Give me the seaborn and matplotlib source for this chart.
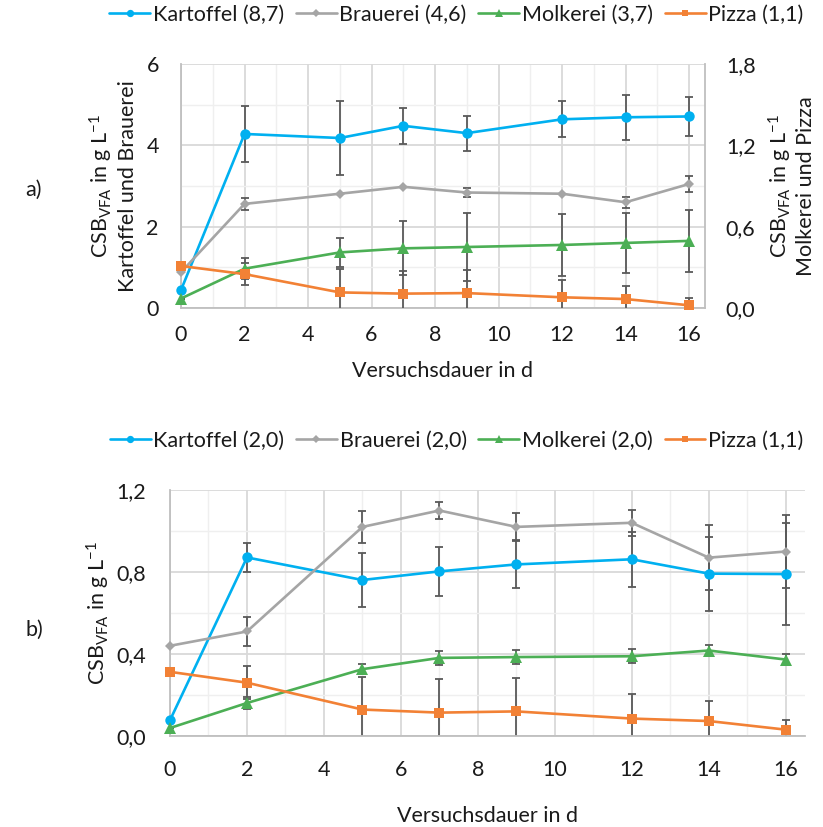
import numpy as np
import pandas as pd
import matplotlib
matplotlib.use("Agg")
import matplotlib.pyplot as plt
import seaborn as sns
from matplotlib.lines import Line2D
from matplotlib.ticker import MultipleLocator, FixedLocator, FixedFormatter

# ---------------- data ----------------
days = [0, 2, 5, 7, 9, 12, 14, 16]

names_a = ["Kartoffel (8,7)", "Brauerei (4,6)", "Molkerei (3,7)", "Pizza (1,1)"]
names_b = ["Kartoffel (2,0)", "Brauerei (2,0)", "Molkerei (2,0)", "Pizza (1,1)"]

# panel a) - Kartoffel & Brauerei on left axis, Molkerei & Pizza on right axis
kart_a = [0.44, 4.28, 4.18, 4.48, 4.30, 4.64, 4.69, 4.71]
kart_a_err = [0.0, 0.69, 0.92, 0.45, 0.43, 0.44, 0.56, 0.47]
brau_a = [0.88, 2.56, 2.81, 2.98, 2.84, 2.81, 2.60, 3.05]
brau_a_err = [0.0, 0.15, 0.0, 0.0, 0.11, 0.0, 0.14, 0.20]
molk_a = [0.07, 0.29, 0.41, 0.44, 0.45, 0.465, 0.48, 0.495]
molk_a_err = [0.0, 0.076, 0.11, 0.20, 0.25, 0.23, 0.22, 0.23]
pizza_a = [0.31, 0.25, 0.115, 0.106, 0.11, 0.079, 0.066, 0.02]
pizza_a_err = [0.0, 0.08, 0.17, 0.17, 0.17, 0.125, 0.096, 0.054]

# panel b)
kart_b = [0.077, 0.871, 0.761, 0.803, 0.837, 0.862, 0.792, 0.79]
kart_b_err = [0.0, 0.07, 0.133, 0.121, 0.117, 0.134, 0.18, 0.25]
brau_b = [0.44, 0.51, 1.02, 1.10, 1.02, 1.04, 0.87, 0.90]
brau_b_err = [0.0, 0.071, 0.08, 0.043, 0.068, 0.062, 0.158, 0.176]
molk_b = [0.039, 0.161, 0.326, 0.381, 0.385, 0.389, 0.417, 0.373]
molk_b_err = [0.0, 0.03, 0.023, 0.035, 0.035, 0.033, 0.025, 0.025]
pizza_b = [0.313, 0.26, 0.129, 0.114, 0.12, 0.085, 0.073, 0.031]
pizza_b_err = [0.0, 0.08, 0.16, 0.166, 0.165, 0.122, 0.098, 0.045]

xticks = [0, 2, 4, 6, 8, 10, 12, 14, 16]
yticks_a_left = [0, 2, 4, 6]
yticks_a_right = [0.0, 0.6, 1.2, 1.8]
yticklabels_a_right = ["0,0", "0,6", "1,2", "1,8"]
yticks_b = [0.0, 0.4, 0.8, 1.2]
yticklabels_b = ["0,0", "0,4", "0,8", "1,2"]

xlabel = "Versuchsdauer in d"
csb = r"CSB$_\mathregular{VFA}$ in g L$^\mathregular{-1}$"

# ---------------- style ----------------
sns.set_theme(style="white")
plt.rcParams["font.family"] = ["Lato", "DejaVu Sans"]
plt.rcParams["mathtext.fontset"] = "custom"
plt.rcParams["mathtext.rm"] = "Lato"
plt.rcParams["mathtext.it"] = "Lato:italic"
plt.rcParams["mathtext.bf"] = "Lato:bold"

FS = 15.5
TXT = "#1a1a1a"
colors = ["#00B0F0", "#A5A5A5", "#4CAF55", "#F28135"]
markers = ["o", "D", "^", "s"]
msizes = [7.5, 5.5, 8, 7]
ERR = "#595959"
GRID_MAJ = "#D9D9D9"
GRID_MIN = "#EFEFEF"
AXC = "#BFBFBF"

W, H = 823, 827
fig = plt.figure(figsize=(W / 100, H / 100), dpi=100)


def frac(l, t, r, b):
    return [l / W, 1 - b / H, (r - l) / W, (b - t) / H]


ax_a = fig.add_axes(frac(181, 64, 705, 308))
ax_b = fig.add_axes(frac(170, 490, 805, 736))
ax_a2 = ax_a.twinx()


def style_grid(ax, ymaj, ymin):
    ax.set_xlim(0, 16.5)
    ax.xaxis.set_major_locator(FixedLocator(xticks))
    ax.xaxis.set_minor_locator(MultipleLocator(1))
    ax.yaxis.set_major_locator(MultipleLocator(ymaj))
    ax.yaxis.set_minor_locator(MultipleLocator(ymin))
    ax.grid(which="major", color=GRID_MAJ, lw=1.3, zorder=0)
    ax.grid(which="minor", color=GRID_MIN, lw=1.0, zorder=0)
    ax.set_axisbelow(True)
    for s in ["top", "right"]:
        ax.spines[s].set_visible(False)
    for s in ["left", "bottom"]:
        ax.spines[s].set_color(AXC)
        ax.spines[s].set_linewidth(1.3)
    ax.tick_params(which="both", length=0, labelsize=FS, colors=TXT)


def draw(ax, vals, errs, i, label):
    ax.errorbar(days, vals, yerr=errs, fmt="none", ecolor=ERR, elinewidth=1.3,
                capsize=3, capthick=1.3, zorder=2)
    df = pd.DataFrame({"x": days, "y": vals})
    sns.lineplot(data=df, x="x", y="y", ax=ax, color=colors[i], marker=markers[i],
                 markersize=msizes[i], markeredgewidth=0, linewidth=1.9,
                 clip_on=False, zorder=3, legend=False)


# ---------------- panel a ----------------
style_grid(ax_a, 2, 1)
ax_a.set_ylim(0, 6)
ax_a.set_yticks(yticks_a_left)
draw(ax_a, kart_a, kart_a_err, 0, names_a[0])
draw(ax_a, brau_a, brau_a_err, 1, names_a[1])
ax_a2.set_ylim(0, 1.8)
draw(ax_a2, molk_a, molk_a_err, 2, names_a[2])
draw(ax_a2, pizza_a, pizza_a_err, 3, names_a[3])
ax_a2.set_ylim(0, 1.8)
ax_a2.set_xlim(0, 16.5)
ax_a2.yaxis.set_major_locator(FixedLocator(yticks_a_right))
ax_a2.yaxis.set_major_formatter(FixedFormatter(yticklabels_a_right))
ax_a2.grid(False)
for s in ["top", "left", "bottom"]:
    ax_a2.spines[s].set_visible(False)
ax_a2.spines["right"].set_color(AXC)
ax_a2.spines["right"].set_linewidth(1.3)
ax_a2.tick_params(length=0, labelsize=FS, colors=TXT, pad=15)
ax_a.tick_params(axis="y", pad=16)
ax_a.tick_params(axis="x", pad=12)
ax_a.set_xlabel(xlabel, fontsize=FS, color=TXT, labelpad=12)
ax_a.set_ylabel(csb + "\n" + "Kartoffel und Brauerei", fontsize=FS, color=TXT,
                va="center", linespacing=1.2)
ax_a.yaxis.set_label_coords(-0.13, 0.5)
ax_a2.set_ylabel(csb + "\n" + "Molkerei und Pizza", fontsize=FS, color=TXT,
                 va="center", rotation=90, linespacing=1.15)
ax_a2.yaxis.set_label_coords(1.165, 0.5)

# ---------------- panel b ----------------
style_grid(ax_b, 0.4, 0.2)
ax_b.set_ylim(0, 1.2)
ax_b.yaxis.set_major_locator(FixedLocator(yticks_b))
ax_b.yaxis.set_major_formatter(FixedFormatter(yticklabels_b))
draw(ax_b, kart_b, kart_b_err, 0, names_b[0])
draw(ax_b, brau_b, brau_b_err, 1, names_b[1])
draw(ax_b, molk_b, molk_b_err, 2, names_b[2])
draw(ax_b, pizza_b, pizza_b_err, 3, names_b[3])
ax_b.tick_params(axis="y", pad=17)
ax_b.tick_params(axis="x", pad=17)
ax_b.set_xlabel(xlabel, fontsize=FS, color=TXT, labelpad=19)
ax_b.set_ylabel(csb, fontsize=FS, color=TXT, va="center")
ax_b.yaxis.set_label_coords(-0.113, 0.5)

# ---------------- legends ----------------
def handles():
    return [Line2D([], [], color=colors[i], marker=markers[i], lw=1.9,
                   markersize=msizes[i] * 0.7, markeredgewidth=0) for i in range(4)]


for names, yc in [(names_a, 15), (names_b, 441)]:
    fig.legend(handles(), names, loc="center", bbox_to_anchor=(456.5 / W, 1 - yc / H),
               ncol=4, frameon=False, fontsize=FS, handlelength=1.9,
               handletextpad=0.12, columnspacing=0.55, labelcolor=TXT,
               borderaxespad=0, borderpad=0)

fig.text(34 / W, 1 - 190 / H, "a)", fontsize=FS, color=TXT, ha="center", va="center")
fig.text(34 / W, 1 - 630 / H, "b)", fontsize=FS, color=TXT, ha="center", va="center")

fig.savefig("out.png", dpi=100)
